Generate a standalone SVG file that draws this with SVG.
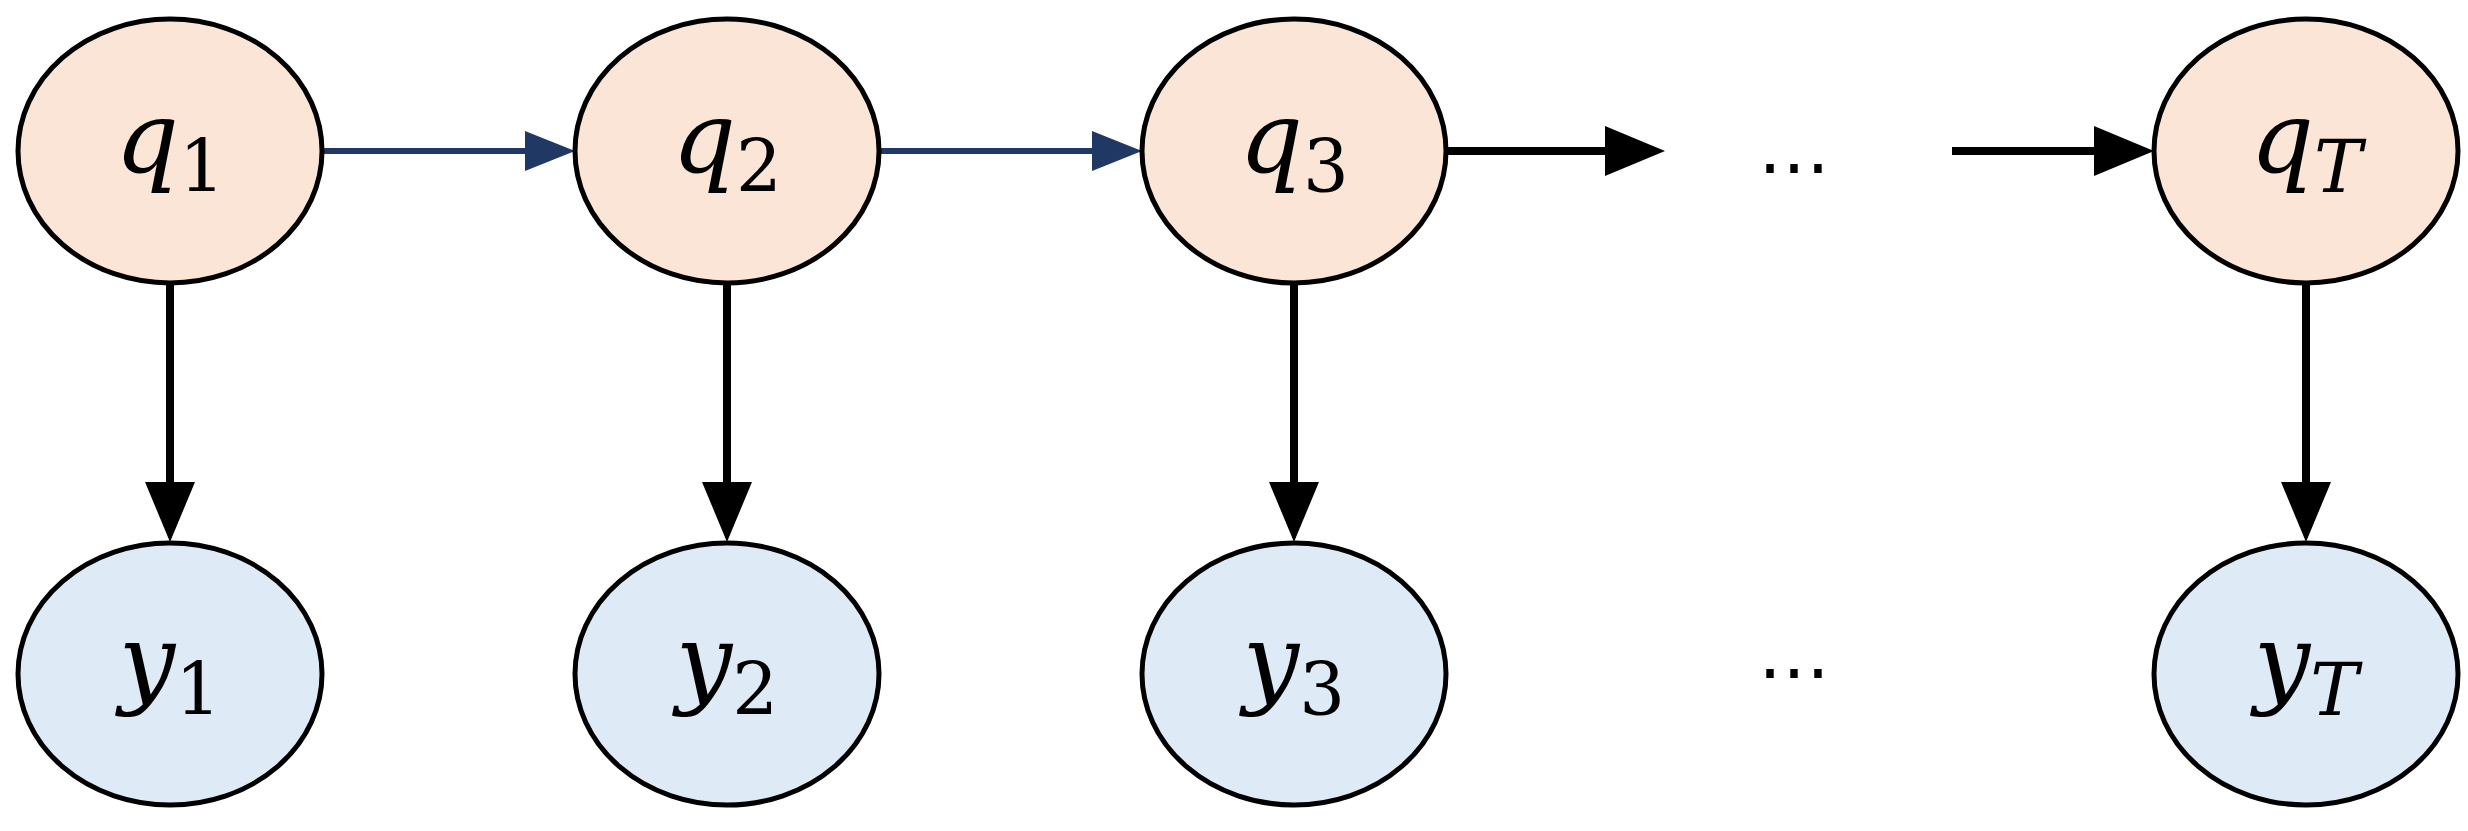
<svg xmlns="http://www.w3.org/2000/svg" width="2468" height="831" viewBox="0 0 2468 831">
<style>
.q{fill:#FBE5D6;stroke:#000;stroke-width:5}
.y{fill:#DEEBF7;stroke:#000;stroke-width:5}
.t{font-family:"DejaVu Serif","Liberation Serif",serif;font-style:italic;font-size:100px;text-anchor:middle}
.s{font-style:normal;font-size:72px}
.st{font-size:72px}
.c{fill:none}
.d{font-family:"Liberation Sans",sans-serif;font-size:72px;text-anchor:middle}
</style>
<defs>
<marker id="ab" viewBox="0 0 60 50" refX="40" refY="25" markerWidth="60" markerHeight="50" markerUnits="userSpaceOnUse" orient="auto"><path d="M0,0L60,25L0,50z" fill="#000"/></marker>
<marker id="an" viewBox="0 0 50 40" refX="35" refY="20" markerWidth="50" markerHeight="40" markerUnits="userSpaceOnUse" orient="auto"><path d="M0,0L50,20L0,40z" fill="#203864"/></marker>
</defs>
<g id="connectors">
<line class="c" x1="323" y1="151" x2="560" y2="151" stroke="#203864" stroke-width="6" marker-end="url(#an)"/>
<line class="c" x1="879" y1="151" x2="1127" y2="151" stroke="#203864" stroke-width="6" marker-end="url(#an)"/>
<line class="c" x1="1446" y1="151" x2="1645" y2="151" stroke="#000" stroke-width="8" marker-end="url(#ab)"/>
<line class="c" x1="1952" y1="151" x2="2134" y2="151" stroke="#000" stroke-width="8" marker-end="url(#ab)"/>
<line class="c" x1="170" y1="283" x2="170" y2="522" stroke="#000" stroke-width="8" marker-end="url(#ab)"/>
<line class="c" x1="727" y1="283" x2="727" y2="522" stroke="#000" stroke-width="8" marker-end="url(#ab)"/>
<line class="c" x1="1294" y1="283" x2="1294" y2="522" stroke="#000" stroke-width="8" marker-end="url(#ab)"/>
<line class="c" x1="2306" y1="283" x2="2306" y2="522" stroke="#000" stroke-width="8" marker-end="url(#ab)"/>
</g>
<g id="q1"><ellipse class="q" cx="170" cy="151" rx="152" ry="132"/><text class="t" x="170" y="172">q<tspan class="s" dy="20">1</tspan></text></g>
<g id="q2"><ellipse class="q" cx="727" cy="151" rx="152" ry="132"/><text class="t" x="727" y="172">q<tspan class="s" dy="20">2</tspan></text></g>
<g id="q3"><ellipse class="q" cx="1294" cy="151" rx="152" ry="132"/><text class="t" x="1294" y="172">q<tspan class="s" dy="20">3</tspan></text></g>
<g id="qT"><ellipse class="q" cx="2306" cy="151" rx="152" ry="132"/><text class="t" x="2306" y="172">q<tspan class="st" dy="20">T</tspan></text></g>
<g id="y1"><ellipse class="y" cx="170" cy="674" rx="152" ry="131"/><text class="t" x="170" y="695">y<tspan class="s" dy="20">1</tspan></text></g>
<g id="y2"><ellipse class="y" cx="727" cy="674" rx="152" ry="131"/><text class="t" x="727" y="695">y<tspan class="s" dy="20">2</tspan></text></g>
<g id="y3"><ellipse class="y" cx="1294" cy="674" rx="152" ry="131"/><text class="t" x="1294" y="695">y<tspan class="s" dy="20">3</tspan></text></g>
<g id="yT"><ellipse class="y" cx="2306" cy="674" rx="152" ry="131"/><text class="t" x="2306" y="695">y<tspan class="st" dy="20">T</tspan></text></g>
<g id="dots"><text class="d" x="1794" y="190">⋯</text><text class="d" x="1794" y="695">⋯</text></g>
</svg>
